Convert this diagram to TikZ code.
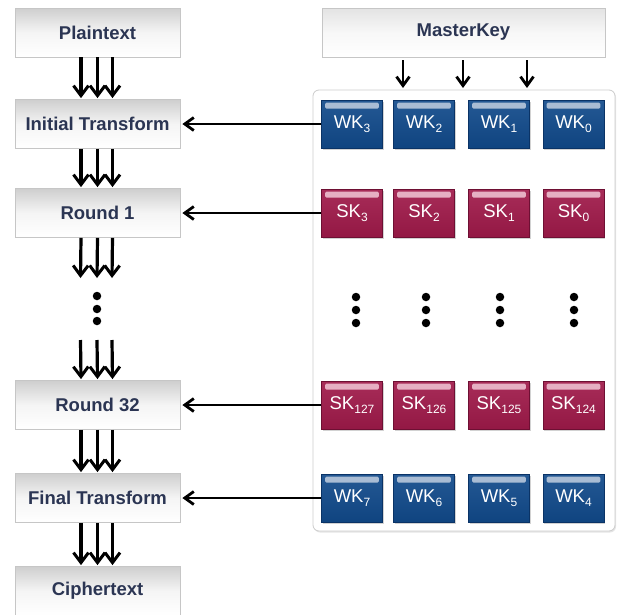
\documentclass[tikz,border=0pt]{standalone}
\usepackage{fontspec}
\setmainfont{Liberation Sans}
\usetikzlibrary{arrows.meta,shadows}
\definecolor{navytext}{HTML}{2B3553}
\definecolor{keyblue}{HTML}{114A8B}
\definecolor{keybluedark}{HTML}{0A3366}
\definecolor{keybluehi}{HTML}{A9BCD4}
\definecolor{keyred}{HTML}{A01A4A}
\definecolor{keyreddark}{HTML}{6E0F33}
\definecolor{keyredhi}{HTML}{E6AFC3}
\newcommand{\ksub}[1]{\raisebox{-4pt}{\fontsize{12}{12}\selectfont #1}}
\tikzset{
  stagebox/.style={draw=gray!45, line width=0.8pt, top color=gray!38, bottom color=white,
    middle color=gray!8, minimum width=165pt, minimum height=49pt, inner sep=0pt,
    font=\fontsize{18.5}{18.5}\selectfont\bfseries, text=navytext},
  keybox/.style={minimum width=61pt, minimum height=48pt, inner sep=0pt,
    font=\fontsize{18.5}{18.5}\selectfont, text=white, line width=0.8pt,
    drop shadow={shadow xshift=1pt, shadow yshift=-1.5pt, opacity=0.35}},
  wkbox/.style={keybox, top color=keyblue!92!white, bottom color=keyblue!92!black, draw=keybluedark},
  skbox/.style={keybox, top color=keyred!92!white, bottom color=keyred!92!black, draw=keyreddark},
  flow/.style={line width=3.2pt, -{Straight Barb[length=10pt,width=15pt,line width=3pt]}},
  feed/.style={line width=2.8pt, -{Straight Barb[length=9pt,width=13pt,line width=2.8pt]}},
  dotmark/.style={circle, fill=black, inner sep=0pt, minimum size=8.5pt},
}
\newcommand{\hibar}[2]{%
  \fill[#2, rounded corners=1.5pt] ([xshift=4pt,yshift=-3pt]#1.north west) rectangle ([xshift=-4pt,yshift=-9pt]#1.north east);}
\begin{document}
\begin{tikzpicture}[x=1pt,y=-1pt]
\useasboundingbox (0,0) rectangle (622,614);
\clip (0,0) rectangle (622,614);
\fill[white] (0,0) rectangle (622,614);
% left column
\node[stagebox] (pt) at (97.5,32.5) {Plaintext};
\node[stagebox] (it) at (97.5,124) {Initial Transform};
\node[stagebox] (r1) at (97.5,213) {Round 1};
\node[stagebox] (r32) at (97.5,405) {Round 32};
\node[stagebox] (ft) at (97.5,498) {Final Transform};
\node[stagebox] (ct) at (97.5,591) {Ciphertext};
% left dots
\node[dotmark] (ld1) at (97,296) {};
\node[dotmark] (ld2) at (97,309) {};
\node[dotmark] (ld3) at (97,321) {};
\coordinate (lend) at (97,279);
\coordinate (lstart) at (97,340);
% triple arrows
\foreach \a/\b in {pt.south/it.north, it.south/r1.north, r1.south/lend, lstart/r32.north, r32.south/ft.north, ft.south/ct.north}{
  \foreach \dx in {-16.5,0,15}{
    \draw[flow] ([xshift=\dx pt]\a) -- ([xshift=\dx pt,yshift=1pt]\b);
  }
}
% right column
\node[draw=gray!45, line width=0.8pt, top color=gray!22, bottom color=white, middle color=gray!6,
  minimum width=283pt, minimum height=49pt, inner sep=0pt,
  font=\fontsize{18.5}{18.5}\selectfont\bfseries, text=navytext] (mk) at (463.5,32.5) {MasterKey};
\node[draw=gray!40, line width=0.8pt, rounded corners=6pt, fill=white,
  drop shadow={shadow xshift=1pt, shadow yshift=-1.5pt, opacity=0.2},
  minimum width=302pt, minimum height=441pt] (panel) at (464,310.5) {};
% keys
\node[wkbox] (w3) at (352,124) {WK\ksub{3}};
\node[wkbox] (w2) at (424,124) {WK\ksub{2}};
\node[wkbox] (w1) at (499,124) {WK\ksub{1}};
\node[wkbox] (w0) at (573.5,124) {WK\ksub{0}};
\node[skbox] (s3) at (352,213) {SK\ksub{3}};
\node[skbox] (s2) at (424,213) {SK\ksub{2}};
\node[skbox] (s1) at (499,213) {SK\ksub{1}};
\node[skbox] (s0) at (573.5,213) {SK\ksub{0}};
\node[skbox] (s127) at (352,405) {SK\ksub{127}};
\node[skbox] (s126) at (424,405) {SK\ksub{126}};
\node[skbox] (s125) at (499,405) {SK\ksub{125}};
\node[skbox] (s124) at (573.5,405) {SK\ksub{124}};
\node[wkbox] (w7) at (352,498) {WK\ksub{7}};
\node[wkbox] (w6) at (424,498) {WK\ksub{6}};
\node[wkbox] (w5) at (499,498) {WK\ksub{5}};
\node[wkbox] (w4) at (573.5,498) {WK\ksub{4}};
\foreach \k in {w3,w2,w1,w0,w7,w6,w5,w4}{\hibar{\k}{keybluehi}}
\foreach \k in {s3,s2,s1,s0,s127,s126,s125,s124}{\hibar{\k}{keyredhi}}
% right dots
\foreach \x/\n in {356/a,426/b,500/c,574/d}{
  \node[dotmark] (\n1) at (\x,297) {};
  \node[dotmark] (\n2) at (\x,310) {};
  \node[dotmark] (\n3) at (\x,323) {};
}
% masterkey arrows
\coordinate (m1) at (403,88);
\coordinate (m2) at (463,88);
\coordinate (m3) at (527,88);
\draw[feed] (mk.south -| m1) ++(0,3) -- (m1);
\draw[feed] (mk.south -| m2) ++(0,3) -- (m2);
\draw[feed] (mk.south -| m3) ++(0,3) -- (m3);
% feed arrows
\draw[feed] (w3.west) -- ([xshift=2pt]it.east);
\draw[feed] (s3.west) -- ([xshift=2pt]r1.east);
\draw[feed] (s127.west) -- ([xshift=2pt]r32.east);
\draw[feed] (w7.west) -- ([xshift=2pt]ft.east);
\end{tikzpicture}
\end{document}
